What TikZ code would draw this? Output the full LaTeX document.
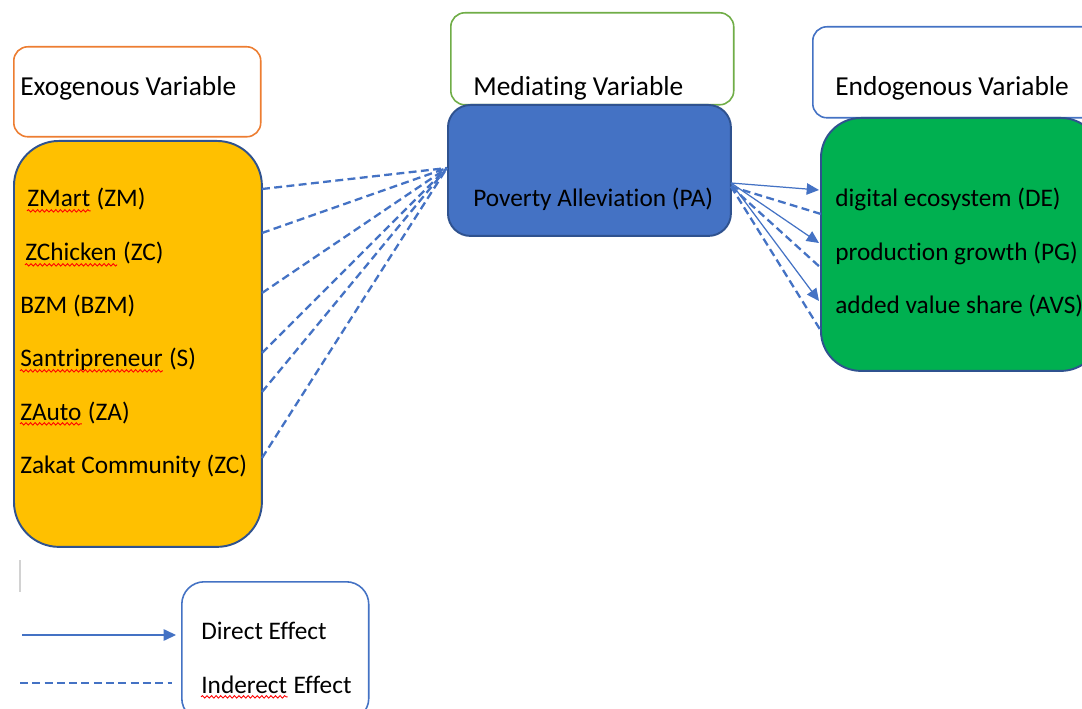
\documentclass[tikz,border=0pt]{standalone}
\usepackage{fontspec}
\setmainfont[Ligatures=NoCommon]{Carlito}
\usetikzlibrary{arrows.meta, positioning, decorations.pathmorphing}
\definecolor{exocolor}{RGB}{255, 192, 0}
\definecolor{medcolor}{RGB}{68, 114, 196}
\definecolor{endocolor}{RGB}{0, 176, 80}
\definecolor{edgecolor}{RGB}{47, 82, 143}
\definecolor{linecolor}{RGB}{68, 114, 196}
\definecolor{orangeline}{RGB}{237, 125, 49}
\definecolor{greenline}{RGB}{112, 173, 71}

\begin{document}
\begin{tikzpicture}[
    x=0.02cm, y=-0.02cm,
    header/.style={draw, fill=white, rounded corners=8pt, line width=0.9pt, anchor=north west, inner sep=0},
    block/.style={draw=edgecolor, line width=1.1pt, anchor=north west, inner sep=0},
    title/.style={anchor=base west, inner sep=0, font=\fontsize{15.6}{18}\selectfont},
    txt/.style={anchor=base west, inner sep=0, font=\fontsize{14.4}{17}\selectfont},
    indirect/.style={draw=linecolor, line width=1.3pt, dash pattern=on 4.5pt off 2.5pt},
    direct/.style={draw=linecolor, line width=0.7pt, -{Triangle[length=7pt, width=6.5pt]}},
    spell/.style={draw=red, line width=0.5pt, decorate, decoration={snake, amplitude=0.7pt, segment length=2.6pt}}
]
    \clip (0,0) rectangle (1082,709);
    \fill[white] (0,0) rectangle (1082,709);

    % Exogenous Variable
    \node[header, draw=orangeline, minimum width=4.94cm, minimum height=1.8cm] (exohead) at (13,46) {};
    \node[title] (exotitle) at (20,96) {Exogenous Variable};
    \node[block, fill=exocolor, rounded corners=0.9cm, minimum width=4.96cm, minimum height=8.12cm] (exo) at (13,140) {};
    \node[txt] (zm) at (27,207) {ZMart};
    \node[txt] (zmb) at (zm.base east) {\ (ZM)};
    \node[txt] (zc) at (25,261) {ZChicken};
    \node[txt] (zcb) at (zc.base east) {\ (ZC)};
    \node[txt] (bzm) at (20,314) {BZM (BZM)};
    \node[txt] (s) at (20,367) {Santripreneur};
    \node[txt] (sb) at (s.base east) {\ (S)};
    \node[txt] (za) at (20,420) {ZAuto};
    \node[txt] (zab) at (za.base east) {\ (ZA)};
    \node[txt] (zk) at (20,474) {Zakat Community (ZC)};

    % Mediating Variable
    \node[header, draw=greenline, minimum width=5.66cm, minimum height=1.84cm] (medhead) at (450,12) {};
    \node[title] (medtitle) at (473,96) {Mediating Variable};
    \node[block, fill=medcolor, rounded corners=0.45cm, minimum width=5.66cm, minimum height=2.62cm] (pa) at (447,104) {};
    \node[txt] (patext) at (473,207) {Poverty Alleviation (PA)};

    % Endogenous Variable
    \node[header, draw=linecolor, minimum width=5.76cm, minimum height=1.82cm] (endohead) at (812,26) {};
    \node[title] (endotitle) at (835,96) {Endogenous Variable};
    \node[block, fill=endocolor, rounded corners=0.8cm, minimum width=5.6cm, minimum height=5.06cm] (endo) at (820,117) {};
    \node[txt] (de) at (835,207) {digital ecosystem (DE)};
    \node[txt] (pg) at (835,261) {production growth (PG)};
    \node[txt] (avs) at (835,314) {added value share (AVS)};

    % Legend
    \draw[gray!35, line width=0.6pt] (20,560) -- (20,592);
    \node[header, draw=linecolor, rounded corners=0.45cm, minimum width=3.74cm, minimum height=2.78cm] (legend) at (181,581) {};
    \node[txt] (dirtext) at (201,639) {Direct Effect};
    \node[txt] (indtext) at (201,693) {Inderect};
    \node[txt] (indtextb) at (indtext.base east) {\ Effect};

    % Spelling marks
    \foreach \w in {zm, zc, s, za, indtext}
        \draw[spell] ([yshift=-2.2pt]\w.base west) -- ([yshift=-2.2pt]\w.base east);

    % Indirect effects into PA
    \coordinate (pain) at (447,168);
    \foreach \y [count=\i] in {189,233,293,353,392,458} {
        \coordinate (ex\i) at (262,\y);
        \draw[indirect] (ex\i) -- (pain);
    }

    % Effects out of PA
    \coordinate (paout) at (731,183);
    \coordinate (d1) at (819,190);
    \coordinate (d2) at (819,243);
    \coordinate (d3) at (819,301);
    \coordinate (i1) at (821,214);
    \coordinate (i2) at (821,268);
    \coordinate (i3) at (821,331);
    \foreach \i in {1,2,3} {
        \draw[direct] (paout) -- (d\i);
        \draw[indirect] ([yshift=-2pt]paout) -- (i\i);
    }

    % Legend lines
    \coordinate (dira) at (22,635);
    \coordinate (dirb) at (176,635);
    \coordinate (inda) at (20,683);
    \coordinate (indb) at (172,683);
    \draw[direct] (dira) -- (dirb);
    \draw[indirect] (inda) -- (indb);
\end{tikzpicture}
\end{document}
